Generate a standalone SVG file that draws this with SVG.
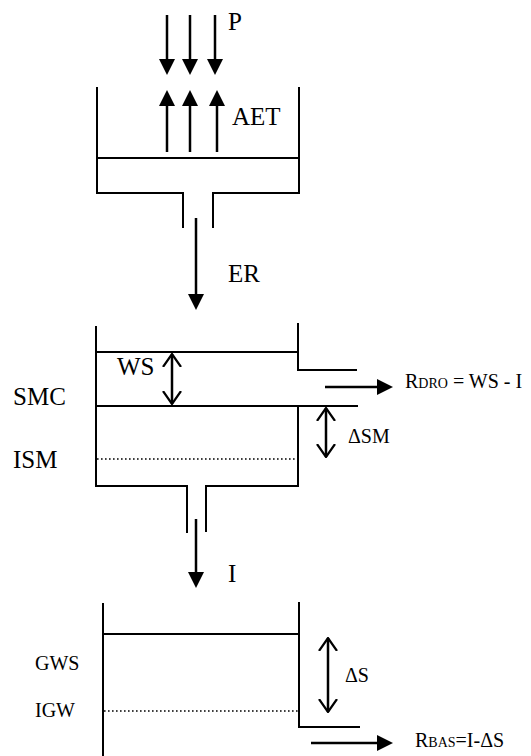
<svg xmlns="http://www.w3.org/2000/svg" width="531" height="756" viewBox="0 0 531 756">
<defs>
<style>
.w{stroke:#000;stroke-width:2;fill:none}
.d{stroke:#000;stroke-width:1.6;fill:none;stroke-dasharray:1.6 2.4}
.a{stroke:#000;stroke-width:2.5;fill:none}
.t{font-family:'Liberation Serif','Times New Roman',serif;fill:#000}
</style>
<marker id="fa" markerUnits="userSpaceOnUse" viewBox="0 0 16 16" markerWidth="16" markerHeight="16" refX="8" refY="8" orient="auto">
<path d="M0,0 L16,8 L0,16 z" fill="#000"/>
</marker>
<marker id="oa" markerUnits="userSpaceOnUse" viewBox="0 0 14 20" markerWidth="14" markerHeight="20" refX="13" refY="10" orient="auto-start-reverse">
<path d="M0,1 L13,10 L0,19" fill="none" stroke="#000" stroke-width="2.2"/>
</marker>
</defs>
<rect width="531" height="756" fill="#fff"/>

<g id="upper-tank">
<path class="w" d="M97,87 V193 H183 V228 M213,228 V193 H299 V87 M97,158 H299"/>
</g>

<g id="middle-tank">
<path class="w" d="M96,326 V486 H187 V533 M206,532 V486 H298 V406 M298,323 V370 H357 M96,352 H298 M96,406 H358"/>
<path class="d" d="M97,459 H298"/>
</g>

<g id="bottom-tank">
<path class="w" d="M103,603 V756 M299,602 V727 H360 M103,634 H299"/>
<path class="d" d="M104,711 H299"/>
</g>

<g id="connectors">
<line class="a" x1="167" y1="15" x2="167" y2="67" marker-end="url(#fa)"/>
<line class="a" x1="190" y1="15" x2="190" y2="67" marker-end="url(#fa)"/>
<line class="a" x1="215" y1="15" x2="215" y2="67" marker-end="url(#fa)"/>
<line class="a" x1="167" y1="152" x2="167" y2="98" marker-end="url(#fa)"/>
<line class="a" x1="190" y1="152" x2="190" y2="98" marker-end="url(#fa)"/>
<line class="a" x1="217" y1="152" x2="217" y2="98" marker-end="url(#fa)"/>
<line class="a" x1="196" y1="218" x2="196" y2="302" marker-end="url(#fa)"/>
<line class="a" x1="196" y1="519" x2="196" y2="580" marker-end="url(#fa)"/>
<line class="a" x1="325" y1="387" x2="385" y2="387" marker-end="url(#fa)"/>
<line class="a" x1="311" y1="743" x2="385" y2="743" marker-end="url(#fa)"/>
<line class="a" x1="172" y1="354" x2="172" y2="404" marker-start="url(#oa)" marker-end="url(#oa)"/>
<line class="a" x1="326" y1="408" x2="326" y2="457" marker-start="url(#oa)" marker-end="url(#oa)"/>
<line class="a" x1="328" y1="638" x2="328" y2="712" marker-start="url(#oa)" marker-end="url(#oa)"/>
</g>

<g id="labels" font-family="'Liberation Serif', 'Times New Roman', serif">
<text class="t" x="228" y="30" font-size="25">P</text>
<text class="t" x="232" y="125" font-size="25">AET</text>
<text class="t" x="228" y="282" font-size="25">ER</text>
<text class="t" x="117" y="375" font-size="25">WS</text>
<text class="t" x="13" y="405" font-size="25">SMC</text>
<text class="t" x="13" y="468" font-size="25">ISM</text>
<text class="t" x="348" y="443" font-size="20">ΔSM</text>
<text class="t" x="405" y="388" font-size="20">R<tspan font-size="14">DRO</tspan> = WS - I</text>
<text class="t" x="228" y="582" font-size="25">I</text>
<text class="t" x="35" y="670" font-size="20">GWS</text>
<text class="t" x="35" y="717" font-size="20">IGW</text>
<text class="t" x="345" y="682" font-size="20">ΔS</text>
<text class="t" x="415" y="747" font-size="20">R<tspan font-size="14">BAS</tspan>=I-ΔS</text>
</g>
</svg>
